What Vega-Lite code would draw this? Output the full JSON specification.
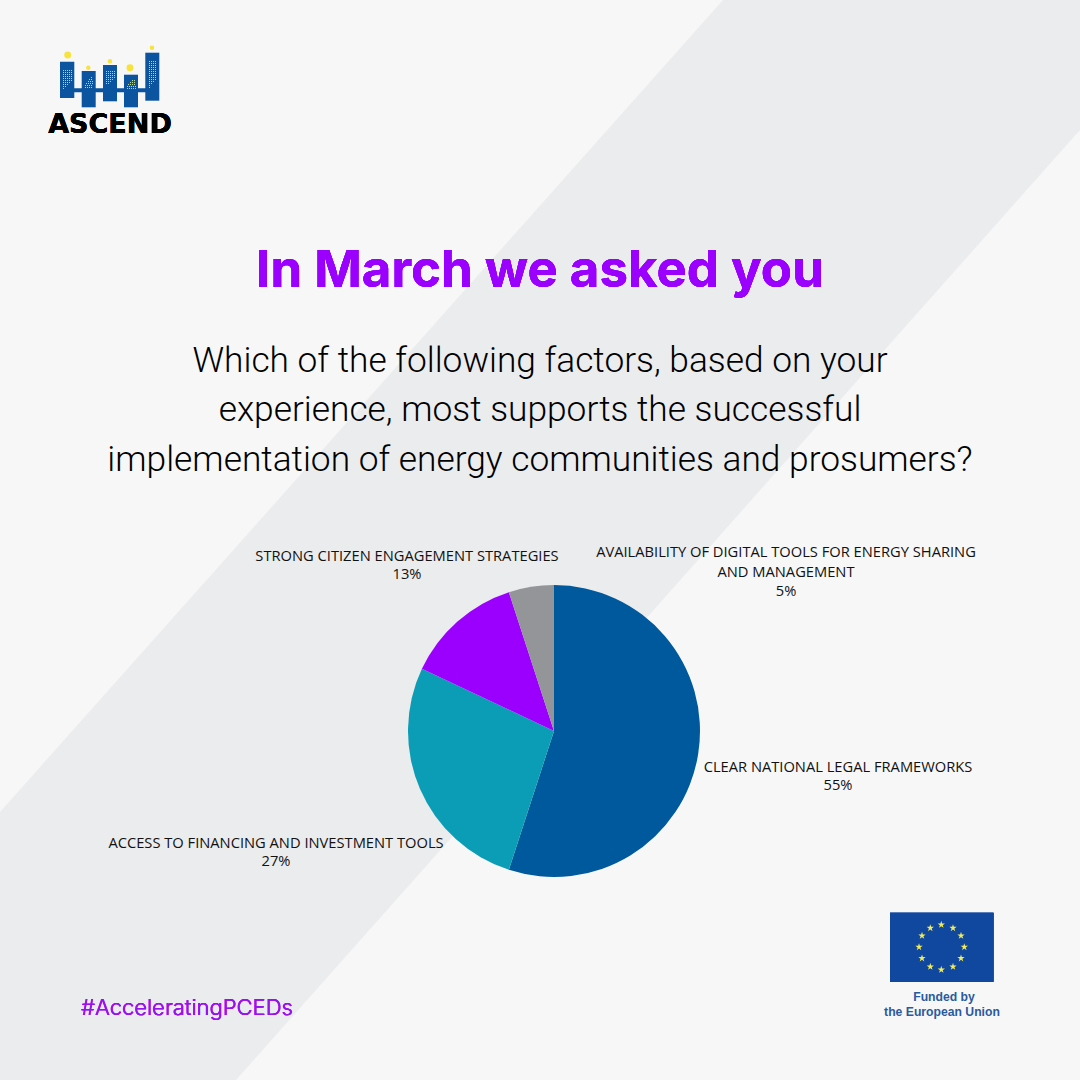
{
  "$schema": "https://vega.github.io/schema/vega-lite/v6.json",
  "width": 1080,
  "height": 1080,
  "autosize": {"type": "fit", "contains": "padding"},
  "padding": 0,
  "background": "#f7f7f7",
  "datasets": {
    "band": [
      {"x": 0, "y": 812, "y2": 1080},
      {"x": 236, "y": 547, "y2": 1080},
      {"x": 723, "y": 0, "y2": 532},
      {"x": 1080, "y": 0, "y2": 130}
    ],
    "buildings": [
      {"x": 74, "x2": 146, "y": 88.3, "y2": 92.3},
      {"x": 60, "x2": 74.3, "y": 61.7, "y2": 98},
      {"x": 81.7, "x2": 95.7, "y": 71, "y2": 107.3},
      {"x": 103, "x2": 117, "y": 65, "y2": 101.3},
      {"x": 124, "x2": 138, "y": 74.7, "y2": 107.3},
      {"x": 145.3, "x2": 159.3, "y": 52.7, "y2": 100.7}
    ],
    "windows": [
      {"x": 63, "x2": 72, "y": 70.5}, {"x": 63, "x2": 72, "y": 72.5}, {"x": 63, "x2": 72, "y": 74.5},
      {"x": 63, "x2": 72, "y": 76.5}, {"x": 63, "x2": 72, "y": 78.5}, {"x": 63, "x2": 72, "y": 80.5},
      {"x": 63, "x2": 70, "y": 82.5}, {"x": 63, "x2": 68, "y": 84.5}, {"x": 63, "x2": 66, "y": 86.5},
      {"x": 63, "x2": 65, "y": 88.5},
      {"x": 91, "x2": 93, "y": 77.5}, {"x": 89, "x2": 93, "y": 79.5}, {"x": 88, "x2": 93, "y": 81.5},
      {"x": 86, "x2": 93, "y": 83.5}, {"x": 85, "x2": 93, "y": 85.5}, {"x": 85, "x2": 93, "y": 87.5},
      {"x": 106, "x2": 115, "y": 71.5}, {"x": 106, "x2": 115, "y": 73.5}, {"x": 106, "x2": 115, "y": 75.5},
      {"x": 106, "x2": 115, "y": 77.5}, {"x": 106, "x2": 113, "y": 79.5}, {"x": 106, "x2": 111, "y": 81.5},
      {"x": 106, "x2": 109, "y": 83.5},
      {"x": 132, "x2": 136, "y": 80.5}, {"x": 130, "x2": 136, "y": 82.5}, {"x": 128, "x2": 136, "y": 84.5},
      {"x": 127, "x2": 136, "y": 86.5}, {"x": 127, "x2": 136, "y": 88.5},
      {"x": 149, "x2": 157, "y": 61.5}, {"x": 149, "x2": 157, "y": 63.5}, {"x": 149, "x2": 157, "y": 65.5},
      {"x": 149, "x2": 157, "y": 67.5}, {"x": 149, "x2": 157, "y": 69.5}, {"x": 149, "x2": 157, "y": 71.5},
      {"x": 149, "x2": 157, "y": 73.5}, {"x": 149, "x2": 157, "y": 75.5}, {"x": 149, "x2": 157, "y": 77.5},
      {"x": 149, "x2": 157, "y": 79.5}, {"x": 149, "x2": 155, "y": 81.5}, {"x": 149, "x2": 153, "y": 83.5},
      {"x": 149, "x2": 151, "y": 85.5}, {"x": 149, "x2": 150, "y": 87.5}
    ],
    "suns": [
      {"x": 67.7, "y": 55, "kind": "big"},
      {"x": 88.3, "y": 67.7, "kind": "small"},
      {"x": 110, "y": 61.3, "kind": "small"},
      {"x": 130, "y": 67.7, "kind": "big"},
      {"x": 152, "y": 47.7, "kind": "small"}
    ],
    "stars": [
      {"x": 941.3, "y": 924.7}, {"x": 953, "y": 928}, {"x": 961, "y": 935.7}, {"x": 964.3, "y": 947},
      {"x": 961, "y": 958.3}, {"x": 953, "y": 966.7}, {"x": 941.3, "y": 969.7}, {"x": 930.3, "y": 966.7},
      {"x": 922, "y": 958.3}, {"x": 919, "y": 947}, {"x": 922, "y": 935.7}, {"x": 930.3, "y": 928}
    ],
    "question": [
      {"line": "Which of the following factors, based on your", "y": 372},
      {"line": "experience, most supports the successful", "y": 421},
      {"line": "implementation of energy communities and prosumers?", "y": 471}
    ],
    "funded": [
      {"line": "Funded by", "x": 944, "y": 1001},
      {"line": "the European Union", "x": 942, "y": 1015.5}
    ],
    "poll": [
      {"factor": "CLEAR NATIONAL LEGAL FRAMEWORKS", "share": 55, "rank": 1},
      {"factor": "ACCESS TO FINANCING AND INVESTMENT TOOLS", "share": 27, "rank": 2},
      {"factor": "STRONG CITIZEN ENGAGEMENT STRATEGIES", "share": 13, "rank": 3},
      {"factor": "AVAILABILITY OF DIGITAL TOOLS FOR ENERGY SHARING\nAND MANAGEMENT", "share": 5, "rank": 4}
    ]
  },
  "data": {"name": "poll"},
  "encoding": {
    "x": {"type": "quantitative", "scale": {"domain": [0, 1080], "nice": false, "zero": false}, "axis": null},
    "y": {"type": "quantitative", "scale": {"domain": [1080, 0], "nice": false, "zero": false}, "axis": null}
  },
  "layer": [
    {
      "data": {"name": "band"},
      "mark": {"type": "area", "color": "#ebecee"},
      "encoding": {"x": {"field": "x"}, "y": {"field": "y"}, "y2": {"field": "y2"}}
    },
    {
      "data": {"name": "buildings"},
      "mark": {"type": "rect", "color": "#0b549f"},
      "encoding": {"x": {"field": "x"}, "x2": {"field": "x2"}, "y": {"field": "y"}, "y2": {"field": "y2"}}
    },
    {
      "mark": {"type": "rect", "color": "#10479f"},
      "encoding": {"x": {"datum": 890}, "x2": {"datum": 993.5}, "y": {"datum": 912.7}, "y2": {"datum": 981.7}}
    },
    {
      "data": {"name": "windows"},
      "mark": {"type": "rule", "color": "#b5d9a0", "strokeWidth": 1, "strokeDash": [1, 1]},
      "encoding": {"x": {"field": "x"}, "x2": {"field": "x2"}, "y": {"field": "y"}}
    },
    {
      "data": {"name": "suns"},
      "mark": {"type": "point", "filled": true, "shape": "circle", "color": "#f7e33c", "opacity": 1},
      "encoding": {
        "x": {"field": "x"}, "y": {"field": "y"},
        "size": {"field": "kind", "type": "nominal", "scale": {"domain": ["big", "small"], "range": [48, 20]}, "legend": null}
      }
    },
    {
      "data": {"name": "stars"},
      "mark": {"type": "point", "filled": true, "opacity": 1, "color": "#f2ec5a", "size": 60, "shape": "M0,-1L0.22,-0.31L0.95,-0.31L0.36,0.12L0.59,0.81L0,0.38L-0.59,0.81L-0.36,0.12L-0.95,-0.31L-0.22,-0.31Z"},
      "encoding": {"x": {"field": "x"}, "y": {"field": "y"}}
    },
    {
      "mark": {"type": "arc", "radius": 146},
      "encoding": {
        "x": {"datum": 554},
        "y": {"datum": 731},
        "theta": {"field": "share", "type": "quantitative", "stack": true},
        "order": {"field": "rank", "type": "ordinal"},
        "color": {"field": "rank", "type": "ordinal", "scale": {"domain": [1, 2, 3, 4], "range": ["#00589d", "#0a9db5", "#9b00ff", "#939598"]}, "legend": null}
      }
    },
    {
      "transform": [
        {"filter": "datum.rank == 1"},
        {"calculate": "datum.factor + '\\n' + datum.share + '%'", "as": "label"}
      ],
      "mark": {"type": "text", "font": "Open Sans", "fontSize": 14.7, "color": "#111111", "lineBreak": "\n", "lineHeight": 18},
      "encoding": {"x": {"datum": 838}, "y": {"datum": 768}, "text": {"field": "label"}}
    },
    {
      "transform": [
        {"filter": "datum.rank == 2"},
        {"calculate": "datum.factor + '\\n' + datum.share + '%'", "as": "label"}
      ],
      "mark": {"type": "text", "font": "Open Sans", "fontSize": 14.7, "color": "#111111", "lineBreak": "\n", "lineHeight": 18},
      "encoding": {"x": {"datum": 276}, "y": {"datum": 844}, "text": {"field": "label"}}
    },
    {
      "transform": [
        {"filter": "datum.rank == 3"},
        {"calculate": "datum.factor + '\\n' + datum.share + '%'", "as": "label"}
      ],
      "mark": {"type": "text", "font": "Open Sans", "fontSize": 14.7, "color": "#111111", "lineBreak": "\n", "lineHeight": 18},
      "encoding": {"x": {"datum": 407}, "y": {"datum": 557}, "text": {"field": "label"}}
    },
    {
      "transform": [
        {"filter": "datum.rank == 4"},
        {"calculate": "datum.factor + '\\n' + datum.share + '%'", "as": "label"}
      ],
      "mark": {"type": "text", "font": "Open Sans", "fontSize": 14.7, "color": "#111111", "lineBreak": "\n", "lineHeight": 19.5},
      "encoding": {"x": {"datum": 786}, "y": {"datum": 553}, "text": {"field": "label"}}
    },
    {
      "mark": {"type": "text", "font": "Inter", "fontWeight": 700, "fontSize": 51, "color": "#9b00ff", "baseline": "alphabetic", "text": "In March we asked you"},
      "encoding": {"x": {"datum": 540}, "y": {"datum": 287}}
    },
    {
      "data": {"name": "question"},
      "mark": {"type": "text", "font": "Roboto", "fontWeight": 300, "fontSize": 35.3, "color": "#000000", "baseline": "alphabetic"},
      "encoding": {"x": {"datum": 540}, "y": {"field": "y"}, "text": {"field": "line"}}
    },
    {
      "mark": {"type": "text", "font": "DejaVu Sans", "fontWeight": 700, "fontSize": 27, "color": "#000000", "baseline": "alphabetic", "text": "ASCEND"},
      "encoding": {"x": {"datum": 110}, "y": {"datum": 133}}
    },
    {
      "mark": {"type": "text", "font": "Inter", "fontWeight": 300, "fontSize": 22, "color": "#9b10ee", "baseline": "alphabetic", "align": "left", "text": "#AcceleratingPCEDs"},
      "encoding": {"x": {"datum": 81}, "y": {"datum": 1015}}
    },
    {
      "data": {"name": "funded"},
      "mark": {"type": "text", "font": "Liberation Sans", "fontWeight": 700, "fontSize": 12.2, "color": "#2a5a9e", "baseline": "alphabetic"},
      "encoding": {"x": {"field": "x"}, "y": {"field": "y"}, "text": {"field": "line"}}
    }
  ],
  "config": {"view": {"stroke": null}}
}
